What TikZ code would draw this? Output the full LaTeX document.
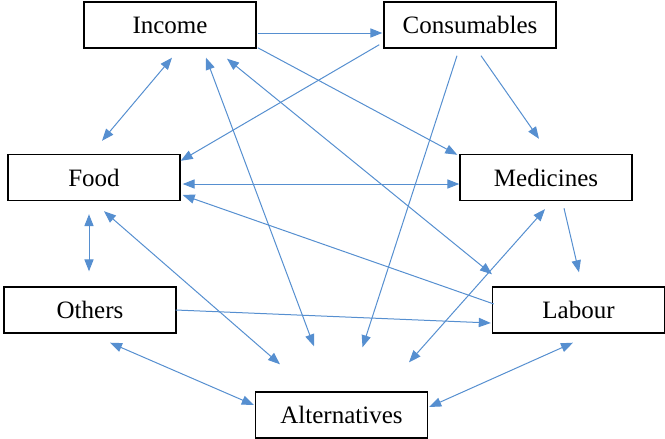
\documentclass[tikz,border=0pt]{standalone}
\usepackage{fontspec}
\setmainfont{Liberation Serif}
\usetikzlibrary{arrows.meta,calc}
\definecolor{linkblue}{RGB}{86,143,208}

\begin{document}
\begin{tikzpicture}[x=0.5pt,y=-0.5pt,
    >={Triangle[length=6pt,width=4.6pt]}]
  \tikzstyle{box}=[draw=black,line width=0.7pt,minimum width=86pt,minimum height=23pt,
    inner sep=0pt,font=\fontsize{12.5}{14}\selectfont]
  \useasboundingbox (0,0) rectangle (665,439);
  \node[box] (inc) at (170,25) {Income};
  \node[box] (con) at (470,25) {Consumables};
  \node[box] (food) at (94,177.5) {Food};
  \node[box] (med) at (546,177.5) {Medicines};
  \node[box] (oth) at (90,310) {Others};
  \node[box] (lab) at (578.5,310) {Labour};
  \node[box] (alt) at (341.5,415) {Alternatives};

  \path[->,color=linkblue,line width=0.5pt]
  ($(inc.east)+(1,8)$) edge ($(con.west)+(-1,8)$)
  ($(con.south west)+(-4,-4)$) edge ($(food.north east)+(0,7)$)
  ($(inc.south east)+(1,-1)$) edge ($(med.north west)+(-2,1)$)
  ($(con.south)+(11,7)$) edge ($(med.north)+(-7,-15)$)
  ($(con.south)+(-13,7)$) edge ($(alt.north)+(21,-44)$)
  ($(inc.south)+(2,9)$) edge[<->] ($(food.north)+(8,-13)$)
  ($(inc.south)+(36,9)$) edge[<->] ($(alt.north)+(-27.5,-45)$)
  ($(inc.south)+(57,10)$) edge[<->] ($(lab.north)+(-86.5,-12)$)
  ($(food.east)+(2,6.5)$) edge[<->] ($(med.west)+(0,6.5)$)
  ($(lab.west)+(2,-6)$) edge ($(food.east)+(2,17.5)$)
  ($(food.south)+(-5,13)$) edge[<->] ($(oth.north)+(-1,-15)$)
  ($(food.south)+(10,10)$) edge[<->] ($(alt.north)+(-61.5,-27)$)
  ($(med.south)+(18,7)$) edge ($(lab.north)+(0.5,-14)$)
  ($(med.south)+(-1,8)$) edge[<->] ($(alt.north)+(67.5,-29)$)
  ($(oth.east)+(-1,0)$) edge ($(lab.west)+(-1,13)$)
  ($(oth.south)+(20,9)$) edge[<->] ($(alt.west)+(-1,-10)$)
  ($(lab.south)+(-5.5,9)$) edge[<->] ($(alt.east)+(1,-8)$)
  ;
\end{tikzpicture}
\end{document}
